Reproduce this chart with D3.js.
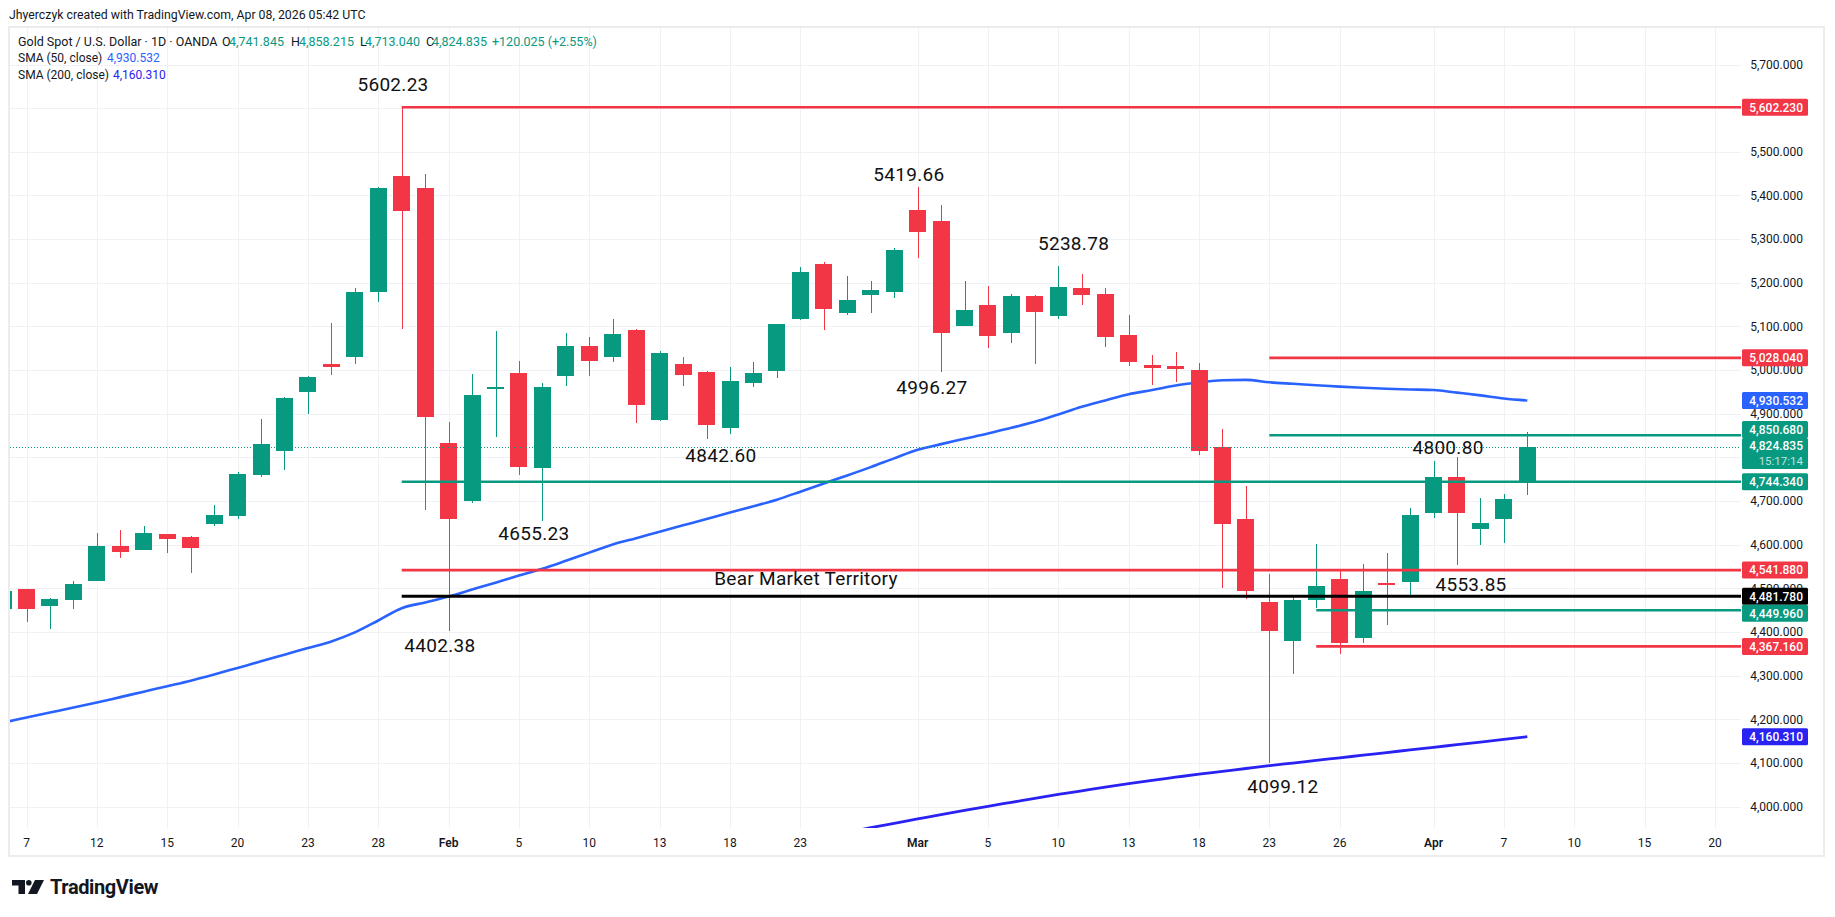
<!DOCTYPE html>
<html>
<head>
<meta charset="utf-8">
<script src="https://cdn.jsdelivr.net/npm/d3@7/dist/d3.min.js"></script>
<style>
html,body{margin:0;padding:0;background:#ffffff;}
svg{display:block;font-family:Roboto,"Liberation Sans",Arial,sans-serif;}
</style>
</head>
<body>
<svg id="chart" width="1835" height="917"></svg>
<script>
// ---------------- data ----------------
const dates = ["2026-01-06","2026-01-07","2026-01-08","2026-01-09","2026-01-12","2026-01-13","2026-01-14","2026-01-15","2026-01-16","2026-01-19","2026-01-20","2026-01-21","2026-01-22","2026-01-23","2026-01-26","2026-01-27","2026-01-28","2026-01-29","2026-01-30","2026-02-02","2026-02-03","2026-02-04","2026-02-05","2026-02-06","2026-02-09","2026-02-10","2026-02-11","2026-02-12","2026-02-13","2026-02-16","2026-02-17","2026-02-18","2026-02-19","2026-02-20","2026-02-23","2026-02-24","2026-02-25","2026-02-26","2026-02-27","2026-03-02","2026-03-03","2026-03-04","2026-03-05","2026-03-06","2026-03-09","2026-03-10","2026-03-11","2026-03-12","2026-03-13","2026-03-16","2026-03-17","2026-03-18","2026-03-19","2026-03-20","2026-03-23","2026-03-24","2026-03-25","2026-03-26","2026-03-27","2026-03-30","2026-03-31","2026-04-01","2026-04-02","2026-04-06","2026-04-07","2026-04-08"];
const futureDates = ["2026-04-09","2026-04-10","2026-04-13","2026-04-14","2026-04-15","2026-04-16","2026-04-17","2026-04-20"];

const opens  = [4452,4498,4460,4473,4518,4596,4588,4624,4617,4647,4666,4759,4814,4949,5015,5031,5178,5445,5417,4832,4700,4956,4994,4776,4986,5056,5029,5092,4885,5015,4996,4867,4970,4997,5116,5243,5131,5171,5178,5367,5342,5102,5150,5086,5170,5125,5189,5175,5081,5012,5010,5001,4823,4658,4470,4380,4473,4521,4387,4512,4515,4672,4756,4636,4659,4741.845];
const highs  = [4500,4499,4478,4516,4628,4633,4642,4624,4619,4690,4766,4887,4939,4987,5108,5188,5420,5602.23,5449,4882,4991,5090,5022,4970,5086,5076,5118,5094,5044,5030,4999,5008,5019,5106,5237,5248,5216,5205,5280,5419.66,5379,5205,5193,5175,5171,5238.78,5220,5189,5127,5035,5042,5016,4866,4734,4534,4484,4601,4539,4555,4580,4685,4791,4800.8,4706,4717,4858.215];
const lows   = [4440,4423,4406,4452,4518,4569,4588,4581,4535,4644,4659,4755,4771,4899,4988,5013,5155,5095,4680,4402.38,4695,4846,4759,4655.23,4964,4986,5018,4878,4883,4963,4842.6,4853,4961,4981,5115,5091,5127,5130,5166,5257,4996.27,5101,5050,5061,5013,5116,5148,5054,5009,4967,4972,4805,4500,4476,4099.12,4304,4455,4350,4375,4416,4483,4661,4553.85,4599,4605,4713.04];
const closes = [4493,4452,4475,4509,4596,4583,4626,4613,4592,4669,4761,4830,4935,4985,5006,5179,5417,5365,4892,4659,4944,4962,4778,4962,5056,5022,5083,4919,5040,4988,4874,4976,4994,5105,5225,5141,5161,5184,5276,5317,5086,5138,5077,5170,5134,5191,5173,5075,5018,5004,5002,4814,4647,4494,4403,4473,4505,4375,4493,4509,4667,4756,4672,4649,4704,4824.835];

const sma50 = [4192.8,4204.2,4215.6,4227,4238.5,4251,4263.5,4276,4288.6,4302.8,4317.9,4333,4348.2,4363.4,4378.6,4399.3,4426.5,4454.6,4467.9,4481.4,4497.3,4513.2,4529.3,4545,4563.2,4582,4600.6,4615.1,4629.8,4644.4,4659,4673.7,4688,4703.2,4721.6,4740.5,4758.8,4777.8,4797.9,4817.6,4830.5,4842.7,4854.8,4868.1,4881.6,4898.5,4915.9,4930.3,4944.7,4954.3,4964.8,4971.7,4976.7,4977.6,4972.1,4968.7,4965.5,4962.1,4959.5,4957.2,4955.7,4954.4,4948.4,4942.2,4935.1,4930.532];
const sma200Start = "2026-02-25";
const sma200 = [3941,3952,3962,3972,3982,3991.5,4001,4010,4019,4028,4036.5,4045,4053,4060.5,4067.5,4074.5,4081,4087.5,4094,4100,4106,4112,4118,4124,4130,4136,4142,4148,4154,4160.31];

const priceTicks = [4000,4100,4200,4300,4400,4500,4600,4700,4800,4900,5000,5100,5200,5300,5400,5500,5600,5700];
const timeTickDates  = ["2026-01-07","2026-01-12","2026-01-15","2026-01-20","2026-01-23","2026-01-28","2026-02-02","2026-02-05","2026-02-10","2026-02-13","2026-02-18","2026-02-23","2026-03-02","2026-03-05","2026-03-10","2026-03-13","2026-03-18","2026-03-23","2026-03-26","2026-04-01","2026-04-07","2026-04-10","2026-04-15","2026-04-20"];
const timeTickLabels = ["7","12","15","20","23","28","Feb","5","10","13","18","23","Mar","5","10","13","18","23","26","Apr","7","10","15","20"];

const levelValues = [5602.23,5028.04,4850.68,4744.34,4541.88,4481.78,4449.96,4367.16];
const levelKinds  = ["red","red","green","green","red","black","green","red"];
const levelStart  = ["2026-01-29","2026-03-23","2026-03-23","2026-01-29","2026-01-29","2026-01-29","2026-03-25","2026-03-25"];

const annTexts  = ["5602.23","5419.66","5238.78","4996.27","4842.60","4655.23","4402.38","4800.80","4553.85","4099.12","Bear Market Territory"];
const annDates  = ["2026-01-29","2026-03-02","2026-03-10","2026-03-03","2026-02-17","2026-02-06","2026-02-02","2026-04-02","2026-04-02","2026-03-23","2026-02-23"];
const annShift  = [-0.37,-0.37,0.65,-0.39,0.61,-0.36,-0.37,-0.38,0.6,0.58,0.24];
const annPrices = [5655,5448,5290,4961.5,4805,4626,4370,4823,4509,4046,4523];

const lastPrice = 4824.835;
const countdown = "15:17:14";

// ---------------- layout / style ----------------
const C = {green:"#089981", red:"#f23645", black:"#000000", sma50:"#2962ff", sma200:"#2a22f2", text:"#131722", grid:"#f0f1f4"};
const PL = 10, PR = 1741, PT = 28, PB = 828;
const svg = d3.select("#chart");

const allDates = dates.concat(futureDates);
const x = d3.scalePoint().domain(allDates).range([3.05, 1714.9]);
const step = x.step();
const y = d3.scaleLinear().domain([4000, 5700]).range([806.7, 64.5]);
const fmt3 = d3.format(",.3f");

// frame
svg.append("rect").attr("x",9).attr("y",27).attr("width",1815).attr("height",829)
  .attr("fill","none").attr("stroke","#ececec").attr("stroke-width",2);

// clip
svg.append("clipPath").attr("id","plot").append("rect")
  .attr("x",PL).attr("y",PT).attr("width",PR-PL).attr("height",PB-PT);

// grid
const grid = svg.append("g").attr("shape-rendering","crispEdges");
grid.selectAll("line.h").data(priceTicks).join("line").attr("class","h")
  .attr("x1",PL).attr("x2",PR)
  .attr("y1",d=>Math.round(y(d))+0.5).attr("y2",d=>Math.round(y(d))+0.5)
  .attr("stroke",C.grid);
grid.selectAll("line.v").data(timeTickDates).join("line").attr("class","v")
  .attr("x1",d=>Math.round(x(d))+0.5).attr("x2",d=>Math.round(x(d))+0.5)
  .attr("y1",PT).attr("y2",PB)
  .attr("stroke",C.grid);

const plot = svg.append("g").attr("clip-path","url(#plot)");

// SMA lines
const sma50Pts = dates.map((d,i)=>[x(d), y(sma50[i])]);
const s200i = dates.indexOf(sma200Start);
const sma200Pts = sma200.map((v,k)=>[x(dates[s200i+k]), y(v)]);
const lineGen = d3.line().curve(d3.curveMonotoneX);
plot.append("path").attr("d",lineGen(sma50Pts)).attr("fill","none")
  .attr("stroke",C.sma50).attr("stroke-width",2.6).attr("stroke-linejoin","round");
plot.append("path").attr("d",lineGen(sma200Pts)).attr("fill","none")
  .attr("stroke",C.sma200).attr("stroke-width",2.8).attr("stroke-linejoin","round");

// candles
const bw = Math.round(step*0.71);
const candles = dates.map((d,i)=>({d,o:opens[i],h:highs[i],l:lows[i],c:closes[i]}));
const cg = plot.append("g").attr("shape-rendering","crispEdges");
cg.selectAll("rect.w").data(candles).join("rect").attr("class","w")
  .attr("x",d=>Math.round(x(d.d))-0.5).attr("width",1.3)
  .attr("y",d=>y(d.h)).attr("height",d=>Math.max(1,y(d.l)-y(d.h)))
  .attr("fill",d=>d.c>=d.o?C.green:C.red);
cg.selectAll("rect.b").data(candles).join("rect").attr("class","b")
  .attr("x",d=>Math.round(x(d.d)-bw/2)).attr("width",bw)
  .attr("y",d=>y(Math.max(d.o,d.c)))
  .attr("height",d=>Math.max(1.5,Math.abs(y(d.o)-y(d.c))))
  .attr("fill",d=>d.c>=d.o?C.green:C.red);

// current price dotted line
plot.append("line").attr("x1",PL).attr("x2",PR)
  .attr("y1",Math.round(y(lastPrice))+0.5).attr("y2",Math.round(y(lastPrice))+0.5)
  .attr("stroke",C.green).attr("stroke-width",1).attr("stroke-dasharray","1,2");

// horizontal level lines
const levels = levelValues.map((v,i)=>({v,k:levelKinds[i],s:levelStart[i]}));
plot.selectAll("line.lvl").data(levels).join("line").attr("class","lvl")
  .attr("x1",d=>x(d.s)).attr("x2",PR)
  .attr("y1",d=>y(d.v)).attr("y2",d=>y(d.v))
  .attr("stroke",d=>C[d.k]).attr("stroke-width",d=>d.k==="black"?3:2.6);

// annotations
const ann = annTexts.map((t,i)=>({t,d:annDates[i],s:annShift[i],p:annPrices[i]}));
plot.selectAll("text.ann").data(ann).join("text").attr("class","ann")
  .attr("x",d=>x(d.d)+d.s*step).attr("y",d=>y(d.p))
  .attr("dy","0.36em").attr("text-anchor","middle")
  .attr("font-size",19).attr("fill","#111").attr("letter-spacing",0.3)
  .text(d=>d.t);

// price label boxes (layout first, so fully covered axis labels can be skipped)
const AXR = 1803;
const BH = 17;
const tags = levels.map(l=>({v:l.v,col:C[l.k],txt:fmt3(l.v)}));
tags.push({v:sma50[sma50.length-1],col:C.sma50,txt:fmt3(sma50[sma50.length-1])});
tags.push({v:sma200[sma200.length-1],col:C.sma200,txt:fmt3(sma200[sma200.length-1])});
const cur = {v:lastPrice,col:C.green,txt:fmt3(lastPrice)};
tags.forEach(t=>{t.cy=y(t.v);});
cur.cy = y(lastPrice);
const curTop = cur.cy-BH/2, curBot = cur.cy-BH/2+31;
tags.forEach(t=>{
  if (t.cy+BH/2>curTop && t.cy-BH/2<curBot){
    if (t.cy<cur.cy) t.cy = curTop-BH/2; else t.cy = curBot+BH/2;
  }
});
tags.sort((a,b)=>a.cy-b.cy);
for (let i=1;i<tags.length;i++){
  if (tags[i].cy-tags[i-1].cy<BH) tags[i].cy = tags[i-1].cy+BH;
}
const boxes = tags.map(t=>[t.cy-BH/2,t.cy+BH/2]).concat([[curTop,curBot]]);
const covered = v => boxes.some(b=>y(v)-5>=b[0] && y(v)+5<=b[1]);

// price axis labels
svg.append("g").selectAll("text").data(priceTicks.filter(v=>!covered(v))).join("text")
  .attr("x",AXR).attr("y",d=>y(d)).attr("dy","0.35em").attr("text-anchor","end")
  .attr("font-size",12).attr("fill",C.text).text(d=>fmt3(d));

const tg = svg.append("g");
tags.forEach(t=>{
  tg.append("rect").attr("x",1742).attr("y",t.cy-BH/2).attr("width",66).attr("height",BH)
    .attr("rx",1.5).attr("fill",t.col);
  tg.append("text").attr("x",AXR).attr("y",t.cy).attr("dy","0.36em").attr("text-anchor","end")
    .attr("font-size",12).attr("font-weight",500).attr("fill","#fff").text(t.txt);
});
tg.append("rect").attr("x",1742).attr("y",curTop).attr("width",66).attr("height",31)
  .attr("rx",1.5).attr("fill",cur.col);
tg.append("text").attr("x",AXR).attr("y",cur.cy-0.5).attr("dy","0.36em").attr("text-anchor","end")
  .attr("font-size",12).attr("font-weight",500).attr("fill","#fff").text(cur.txt);
tg.append("text").attr("x",AXR).attr("y",cur.cy+14.5).attr("dy","0.36em").attr("text-anchor","end")
  .attr("font-size",11.5).attr("fill","#fff").attr("fill-opacity",0.75).text(countdown);

// time axis labels
svg.append("g").selectAll("text").data(timeTickDates).join("text")
  .attr("x",d=>x(d)).attr("y",843).attr("dy","0.35em").attr("text-anchor","middle")
  .attr("font-size",12).attr("fill",C.text)
  .attr("font-weight",(d,i)=>isNaN(+timeTickLabels[i])?600:400)
  .text((d,i)=>timeTickLabels[i]);

// header
svg.append("text").attr("x",9).attr("y",19).attr("font-size",12.3).attr("fill",C.text)
  .text("Jhyerczyk created with TradingView.com, Apr 08, 2026 05:42 UTC");

// legend
const lg = svg.append("g").attr("font-size",12.5);
const row1 = [
  ["Gold Spot / U.S. Dollar · 1D · OANDA",C.text,18],
  ["O",C.text,222],[fmt3(opens[opens.length-1]),C.green,229],
  ["H",C.text,291],[fmt3(highs[highs.length-1]),C.green,299],
  ["L",C.text,360],[fmt3(lows[lows.length-1]),C.green,365],
  ["C",C.text,426],[fmt3(lastPrice),C.green,432],
  ["+120.025 (+2.55%)",C.green,492]
];
row1.forEach(r=>lg.append("text").attr("x",r[2]).attr("y",46).attr("fill",r[1]).text(r[0]));
const lg2 = svg.append("g").attr("font-size",12);
lg2.append("text").attr("x",18).attr("y",62).attr("fill",C.text).text("SMA (50, close)");
lg2.append("text").attr("x",107).attr("y",62).attr("fill",C.sma50).text(fmt3(sma50[sma50.length-1]));
lg2.append("text").attr("x",18).attr("y",79).attr("fill",C.text).text("SMA (200, close)");
lg2.append("text").attr("x",113).attr("y",79).attr("fill",C.sma200).text(fmt3(sma200[sma200.length-1]));

// TradingView logo
const logo = svg.append("g").attr("fill",C.text);
logo.append("path").attr("d","M12 880 H25 V894 H18.5 V885.5 H12 Z");
logo.append("circle").attr("cx",28.8).attr("cy",882.8).attr("r",2.8);
logo.append("path").attr("d","M35 880 H44 L37 894 H28 Z");
logo.append("text").attr("x",50).attr("y",894).attr("font-size",20).attr("font-weight",700)
  .attr("letter-spacing",-0.4).attr("fill",C.text).text("TradingView");
</script>
</body>
</html>
